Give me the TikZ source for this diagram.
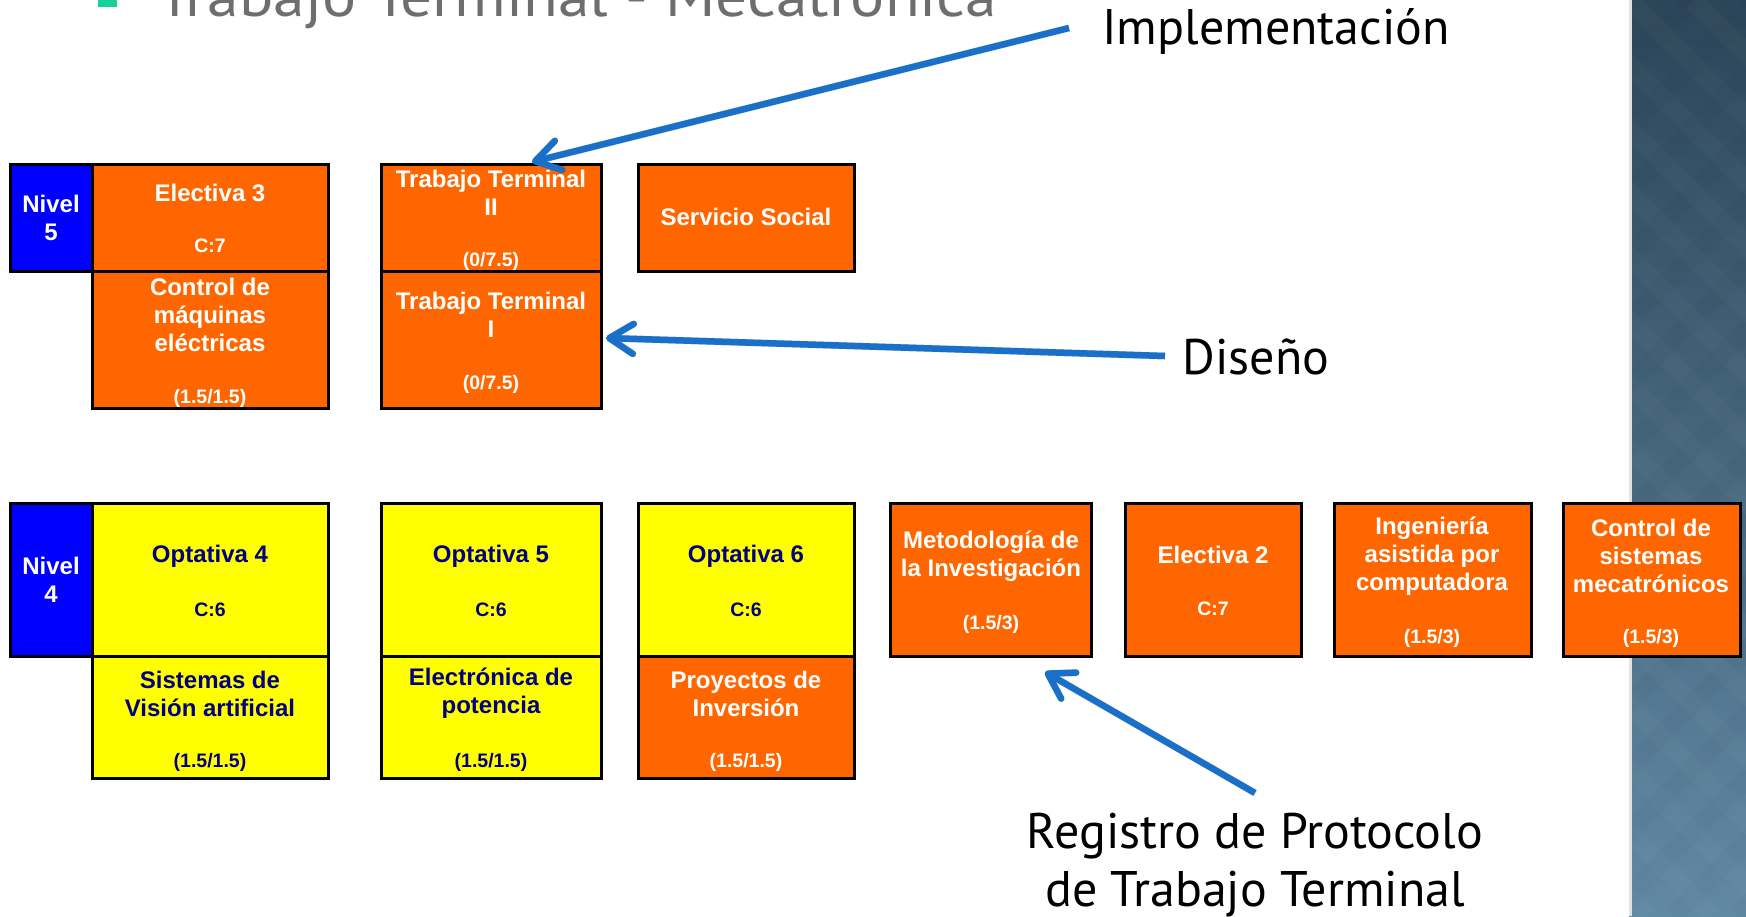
\documentclass[tikz,border=0pt]{standalone}
\usepackage{fontspec}
\usepackage{graphicx}
\setmainfont{Liberation Sans}
\newfontfamily\annotfont{PT Sans}
\usetikzlibrary{arrows.meta}
\definecolor{orng}{HTML}{FF6600}
\definecolor{yllw}{HTML}{FFFF00}
\definecolor{nblue}{HTML}{0000FF}
\definecolor{navy}{HTML}{000080}
\definecolor{arrblue}{RGB}{26,112,200}
\definecolor{titlegray}{HTML}{6E6E6E}
\definecolor{bulletgreen}{HTML}{17D09C}
\definecolor{paneltop}{HTML}{2C4558}
\definecolor{panelbot}{HTML}{6189A4}
\tikzset{
  cell/.style={draw=black, line width=3pt, inner sep=0pt, minimum width=#1},
  cellO/.style={cell=#1, fill=orng},
  cellY/.style={cell=#1, fill=yllw},
  cellB/.style={cell=#1, fill=nblue},
  big/.style={font=\fontsize{24}{28}\selectfont\bfseries, inner sep=0pt, align=center},
  small/.style={font=\fontsize{19.5}{22}\selectfont\bfseries, inner sep=0pt, align=center},
  wt/.style={text=white},
  nt/.style={text=navy},
  annot/.style={font=\annotfont\fontsize{50}{58}\selectfont, inner sep=0pt, align=center, text=black},
  pointer/.style={line width=6.5pt, draw=arrblue, -{Straight Barb[length=24pt,width=30pt,round]}},
  pshadow/.style={line width=7pt, draw=black, opacity=0.16, -{Straight Barb[length=24pt,width=30pt,round]}}
}
\begin{document}
\begin{tikzpicture}[x=1pt,y=-1pt]
\useasboundingbox (0,0) rectangle (1746,916);
\clip (0,0) rectangle (1746,916);
\fill[white] (0,0) rectangle (1746,916);
% right panel
\shade[top color=paneltop, bottom color=panelbot] (1629,0) rectangle (1746,916);
\begin{scope}
\clip (1629,0) rectangle (1746,916);
\foreach \k in {-20,...,20} {
  \draw[white, opacity=0.025, line width=20pt] (1629+\k*64,0) -- ++(916,916);
  \draw[black, opacity=0.02, line width=20pt] (1629+\k*64,0) -- ++(-916,916);
}
\end{scope}
\fill[white!85!paneltop] (1629,0) rectangle (1632,916);
% title (cut off at top, as in the reference)
\fill[bulletgreen] (98,-10) rectangle (117,7);
\node[anchor=base west, inner sep=0pt, text=titlegray] (title) at (157,16)
  {\resizebox{840pt}{\height}{\annotfont\fontsize{58}{60}\selectfont Trabajo Terminal - Mecatrónica}};

% ---- Nivel 5 row ----
\node[cellB=82pt, minimum height=107pt] (niv5) at (51,217.5) {};
\node[cellO=236pt, minimum height=107pt] (e3) at (210,217.5) {};
\node[cellO=236pt, minimum height=137pt] (cm) at (210,339.5) {};
\node[cellO=220pt, minimum height=107pt] (tt2) at (491,217.5) {};
\node[cellO=220pt, minimum height=137pt] (tt1) at (491,339.5) {};
\node[cellO=216pt, minimum height=107pt] (ss) at (746,217.5) {};

\node[big,wt] (niv5t) at (51,218) {Nivel\\5};
\node[big,wt] (e3t) at (210,193) {Electiva 3};
\node[small,wt] (e3c) at (210,245.5) {C:7};
\node[big,wt] (cmt) at (210,315) {Control de\\máquinas\\eléctricas};
\node[small,wt] (cmc) at (210,398) {(1.5/1.5)};
\node[big,wt] (tt2t) at (491,192.5) {Trabajo Terminal\\II};
\node[small,wt] (tt2c) at (491,261) {(0/7.5)};
\node[big,wt] (tt1t) at (491,315) {Trabajo Terminal\\I};
\node[small,wt] (tt1c) at (491,384.5) {(0/7.5)};
\node[big,wt] (sst) at (746,217) {Servicio Social};

% ---- Nivel 4 row ----
\node[cellB=82pt, minimum height=153pt] (niv4) at (51,579.5) {};
\node[cellY=236pt, minimum height=153pt] (o4) at (210,579.5) {};
\node[cellY=236pt, minimum height=122pt] (sva) at (210,717) {};
\node[cellY=220pt, minimum height=153pt] (o5) at (491,579.5) {};
\node[cellY=220pt, minimum height=122pt] (ep) at (491,717) {};
\node[cellY=216pt, minimum height=153pt] (o6) at (746,579.5) {};
\node[cellO=216pt, minimum height=122pt] (pin) at (746,717) {};
\node[cellO=201pt, minimum height=153pt] (mi) at (990.5,579.5) {};
\node[cellO=176pt, minimum height=153pt] (e2) at (1213,579.5) {};
\node[cellO=197pt, minimum height=153pt] (ia) at (1432.5,579.5) {};
\node[cellO=177pt, minimum height=153pt] (cs) at (1651.5,579.5) {};

\node[big,wt] (niv4t) at (51,579.5) {Nivel\\4};
\node[big,nt] (o4t) at (210,556) {Optativa 4};
\node[small,nt] (o4c) at (210,609.5) {C:6};
\node[big,nt] (svat) at (210,693.5) {Sistemas de\\Visión artificial};
\node[small,nt] (svac) at (210,762) {(1.5/1.5)};
\node[big,nt] (o5t) at (491,556) {Optativa 5};
\node[small,nt] (o5c) at (491,609.5) {C:6};
\node[big,nt] (ept) at (491,693.5) {Electrónica de\\potencia};
\node[small,nt] (epc) at (491,762) {(1.5/1.5)};
\node[big,nt] (o6t) at (746,556) {Optativa 6};
\node[small,nt] (o6c) at (746,609.5) {C:6};
\node[big,wt] (pint) at (746,693.5) {Proyectos de\\Inversión};
\node[small,wt] (pinc) at (746,762) {(1.5/1.5)};
\node[big,wt] (mit) at (991,556.5) {Metodología de\\la Investigación};
\node[small,wt] (mic) at (991,624) {(1.5/3)};
\node[big,wt] (e2t) at (1213,554.5) {Electiva 2};
\node[small,wt] (e2c) at (1213,609) {C:7};
\node[big,wt] (iat) at (1432,556) {Ingeniería\\asistida por\\computadora};
\node[small,wt] (iac) at (1432,638) {(1.5/3)};
\node[big,wt] (cst) at (1651,556) {Control de\\sistemas\\mecatrónicos};
\node[small,wt] (csc) at (1651,638) {(1.5/3)};

% ---- annotations ----
\node[annot] (impl) at (1276,31) {Implementación};
\node[annot] (dis) at (1256,357) {Diseño};
\node[annot] (reg) at (1255,865) {Registro de Protocolo\\de Trabajo Terminal};

\coordinate (a1s) at (1069,28);
\coordinate (a1e) at (532,162);
\coordinate (a2s) at (1165,356);
\coordinate (a2e) at (606,338);
\coordinate (a3s) at (1255,793);
\coordinate (a3e) at (1045,672);

\begin{scope}[shift={(3,5)}]
\draw[pshadow] (a1s) -- (a1e);
\draw[pshadow] (a2s) -- (a2e);
\draw[pshadow] (a3s) -- (a3e);
\end{scope}
\draw[pointer] (a1s) -- (a1e);
\draw[pointer] (a2s) -- (a2e);
\draw[pointer] (a3s) -- (a3e);
\end{tikzpicture}
\end{document}
